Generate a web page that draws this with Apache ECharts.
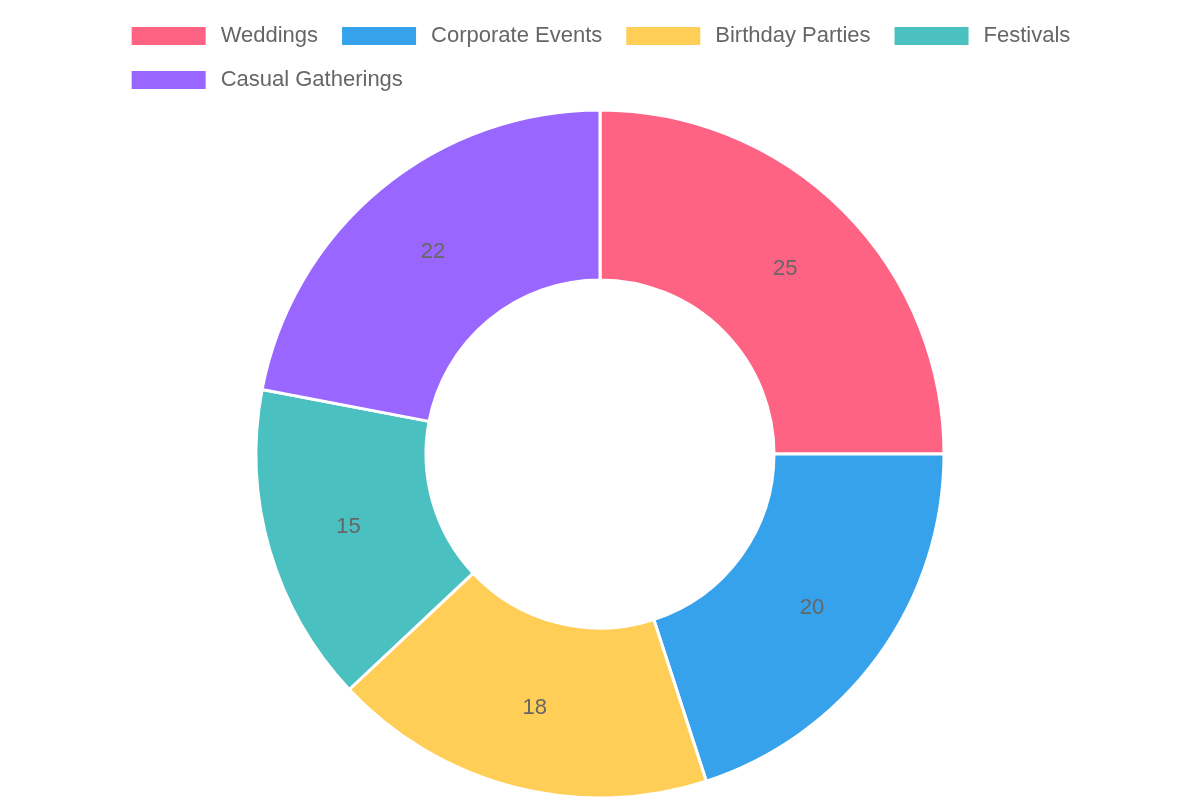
<!DOCTYPE html>
<html lang="en">
<head>
<meta charset="UTF-8">
<title>Event Types</title>
<script src="https://cdn.jsdelivr.net/npm/echarts@6/dist/echarts.min.js"></script>
<style>html,body{margin:0;padding:0;background:#fff}</style>
</head>
<body>
<div id="main" style="width:1200px;height:800px;"></div>
<script type="text/javascript">
var categories = ['Weddings', 'Corporate Events', 'Birthday Parties', 'Festivals', 'Casual Gatherings'];
var values = [25, 20, 18, 15, 22];
var colors = ['#FF6384', '#36A2EB', '#FFCE56', '#4BC0C0', '#9966FF'];

var myChart = echarts.init(document.getElementById('main'));
myChart.setOption({
    animation: false,
    color: colors,
    legend: {
        top: 20,
        left: 'center',
        width: 1020,
        itemWidth: 76,
        itemHeight: 20,
        itemGap: 22,
        icon: 'rect',
        textStyle: {color: '#666', fontSize: 22, fontFamily: 'Liberation Sans', padding: [0, 0, 0, 9]},
        data: categories
    },
    series: [{
        type: 'pie',
        center: [600, 454],
        radius: [174, 344],
        startAngle: 90,
        itemStyle: {borderColor: '#fff', borderWidth: 3},
        label: {
            position: 'inside',
            color: '#666',
            fontSize: 22,
            fontFamily: 'Liberation Sans',
            formatter: '{c}'
        },
        labelLine: {show: false},
        emphasis: {scale: false},
        data: categories.map(function (c, i) { return {name: c, value: values[i]}; })
    }]
});
</script>
</body>
</html>
